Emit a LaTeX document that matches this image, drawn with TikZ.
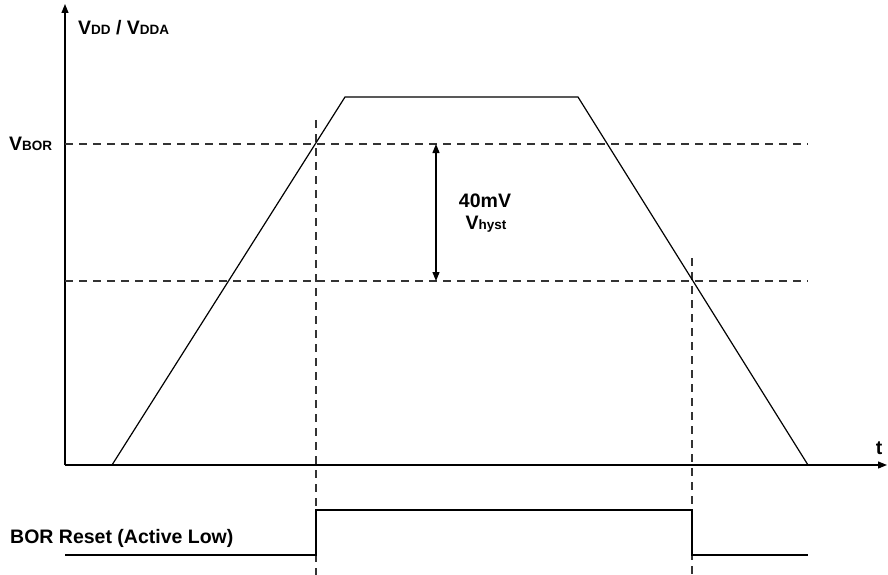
\documentclass[tikz,border=0pt]{standalone}
\usepackage{fontspec}
\setmainfont{Liberation Sans}
\usetikzlibrary{arrows.meta}
\tikzset{
  wire/.style={line width=1.2pt, black},
  guide/.style={line width=1.1pt, black!80, dash pattern=on 8pt off 6pt},
  axis/.style={wire, -{Triangle[length=9pt,width=7pt]}},
  lbl/.style={font=\fontsize{19.5}{22}\selectfont\bfseries, inner sep=0pt}
}
\newcommand{\subt}[1]{{\fontsize{13.5}{15}\selectfont #1}}
\begin{document}
\begin{tikzpicture}[x=1pt,y=-1pt]
\useasboundingbox (0,0) rectangle (888,575);
% axes
\coordinate (O) at (65,465);
\coordinate (ytop) at (65,4);
\coordinate (xend) at (887,465);
\draw[axis] (O) -- (ytop);
\draw[axis] (O) -- (xend);
% guides
\coordinate (bl) at (65,144); \coordinate (br) at (808,144);
\coordinate (hl) at (65,281); \coordinate (hr) at (808,281);
\draw[guide] (bl) -- (br);
\draw[guide] (hl) -- (hr);
\coordinate (v1t) at (316,120); \coordinate (v1b) at (316,575);
\coordinate (v2t) at (692,258); \coordinate (v2b) at (692,575);
\draw[guide] (v1t) -- (v1b);
\draw[guide] (v2t) -- (v2b);
% trapezoid
\coordinate (t0) at (112,465);
\coordinate (t1) at (345,97);
\coordinate (t2) at (578,97);
\coordinate (t3) at (808,465);
\draw[wire, line join=miter] (t0) -- (t1) -- (t2) -- (t3);
% hysteresis arrow
\coordinate (ha) at (436,144); \coordinate (hb) at (436,281);
\draw[wire, {Triangle[length=9pt,width=7pt]}-{Triangle[length=9pt,width=7pt]}] (ha) -- (hb);
% reset signal
\coordinate (r0) at (65,555);
\coordinate (r1) at (316,555);
\coordinate (r2) at (316,510);
\coordinate (r3) at (692,510);
\coordinate (r4) at (692,555);
\coordinate (r5) at (808,555);
\draw[wire] (r0) -- (r1) -- (r2) -- (r3) -- (r4) -- (r5);
% labels
\node[lbl, anchor=base west] (vdd) at (78,35) {V\subt{DD} / V\subt{DDA}};
\node[lbl, anchor=base west] (vbor) at (9,150) {V\subt{BOR}};
\node[lbl, anchor=base] (mv) at (485,207) {40mV};
\node[lbl, anchor=base] (vh) at (486,229) {V\subt{hyst}};
\node[lbl, anchor=base] (t) at (879,454) {t};
\node[lbl, anchor=base west] (bor) at (10,543) {BOR Reset (Active Low)};
\end{tikzpicture}
\end{document}
